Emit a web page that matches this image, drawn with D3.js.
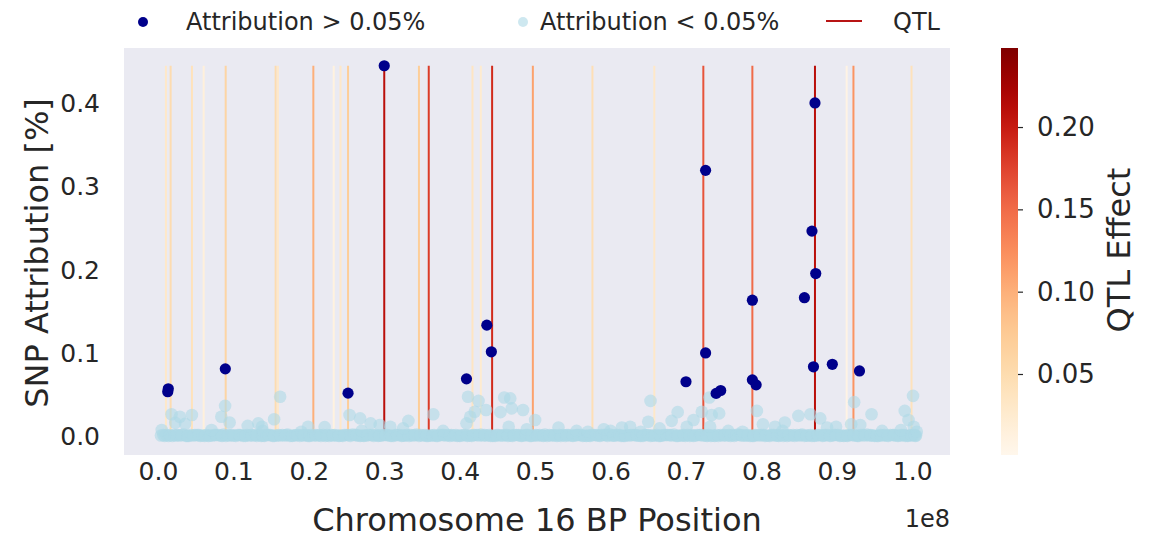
<!DOCTYPE html>
<html><head><meta charset="utf-8">
<script src="https://cdn.jsdelivr.net/npm/d3@7"></script>
<style>
html,body{margin:0;padding:0;background:#fff;}
svg text{font-family:"DejaVu Sans",sans-serif;fill:#262626;}
</style></head>
<body><svg id="chart" width="1152" height="538"></svg>
<script>
// QTL positions (Mb) and effects
const qtlPos =    [1.06, 1.68, 4.51, 6.06, 8.98, 15.6, 15.9, 20.6, 23.3, 24.2, 25.2, 30.0, 34.6, 35.9, 41.7, 42.8, 44.3, 49.7, 57.6, 65.8, 72.3, 78.8, 87.1, 91.3, 92.2, 99.9];
const qtlEffect = [0.03, 0.05, 0.04, 0.015, 0.06, 0.05, 0.03, 0.10, 0.012, 0.03, 0.07, 0.21, 0.07, 0.18, 0.035, 0.025, 0.19, 0.11, 0.045, 0.03, 0.165, 0.15, 0.21, 0.008, 0.12, 0.04];

// SNPs with attribution > 0.05% : [position Mb, attribution %]
const highSNPs = [
 [1.37,0.0565],[1.30,0.0530],[8.93,0.0805],[25.2,0.0513],[30.0,0.4447],[40.9,0.0685],
 [43.6,0.1330],[44.2,0.1010],[70.0,0.0650],[72.6,0.3190],[72.6,0.0996],[74.0,0.0510],
 [74.6,0.0545],[78.8,0.1630],[78.8,0.0673],[79.3,0.0613],[85.7,0.1660],[86.7,0.2460],
 [87.1,0.4000],[87.2,0.1950],[86.9,0.0830],[89.4,0.0860],[93.0,0.0780]
];

// SNPs with attribution < 0.05% (elevated ones)
const lowSNPsRaised = [
 [1.8,0.026],[2.9,0.023],[4.5,0.025],[8.9,0.036],[8.4,0.023],[9.5,0.016],[16.2,0.047],[15.4,0.020],
 [2.3,0.0156],[3.6,0.0144],[11.9,0.012],[13.3,0.015],[13.8,0.011],[7.1,0.007],[0.5,0.007],
 [25.4,0.025],[26.8,0.021],[28.2,0.015],[33.2,0.018],[36.5,0.026],[19.9,0.011],[22.1,0.0105],
 [29.4,0.013],[30.8,0.011],[32.5,0.009],[41.1,0.047],[42.5,0.042],[45.9,0.046],[46.7,0.045],
 [46.9,0.033],[43.5,0.031],[45.4,0.0285],[48.4,0.031],[42.0,0.029],[41.4,0.023],[40.9,0.015],
 [50.0,0.019],[46.5,0.011],[53.1,0.010],[48.9,0.008],[59.1,0.008],[65.3,0.042],[65.0,0.017],
 [68.9,0.0285],[68.1,0.018],[73.1,0.046],[72.1,0.029],[73.4,0.025],[74.4,0.027],[71.0,0.019],
 [73.2,0.011],[79.4,0.030],[80.2,0.014],[61.5,0.010],[62.6,0.011],[66.5,0.009],[70.1,0.011],
 [92.3,0.0405],[100.1,0.048],[84.9,0.024],[83.1,0.016],[86.5,0.026],[87.8,0.021],[94.6,0.026],
 [99.0,0.030],[99.5,0.019],[81.8,0.011],[91.9,0.014],[93.1,0.013],[89.9,0.011],[88.7,0.010],
 [100.2,0.011],[100.6,0.005],[13.9,0.006],[19.0,0.005],[27.0,0.006],[37.8,0.006],[55.5,0.006],
 [57.0,0.005],[60.0,0.006],[64.0,0.005],[75.6,0.006],[77.5,0.005],[82.8,0.006],[96.0,0.006],[98.5,0.007]
];

// dense band of near-zero SNPs (three interleaved runs read along the band)
const lowSNPsBandA = [
 [0.4,0.0005],[1.1,0.001],[1.9,0.000],[2.6,0.001],[3.4,0.0015],[4.1,0.000],[4.9,0.001],[5.6,0.000],[6.4,0.001],[7.2,0.0005],
 [8.0,0.001],[8.7,0.0015],[9.5,0.0005],[10.3,0.000],[11.0,0.001],[11.8,0.001],[12.6,0.0005],[13.4,0.001],[14.1,0.000],[14.9,0.001],
 [15.7,0.0005],[16.5,0.001],[17.2,0.0015],[18.0,0.0005],[18.8,0.000],[19.6,0.001],[20.3,0.001],[21.1,0.0005],[21.9,0.001],[22.7,0.000],
 [23.4,0.001],[24.2,0.0005],[25.0,0.001],[25.8,0.0015],[26.5,0.0005],[27.3,0.000],[28.1,0.001],[28.9,0.001],[29.6,0.0005],[30.4,0.001],
 [31.2,0.000],[32.0,0.001],[32.7,0.0005],[33.5,0.001],[34.3,0.0015],[35.1,0.0005],[35.8,0.000],[36.6,0.001],[37.4,0.001],[38.2,0.0005],
 [38.9,0.001],[39.7,0.000],[40.5,0.001],[41.3,0.0005],[42.0,0.001],[42.8,0.0015],[43.6,0.0005],[44.4,0.000],[45.1,0.001],[45.9,0.001],
 [46.7,0.0005],[47.5,0.001],[48.2,0.000],[49.0,0.001],[49.8,0.0005],[50.6,0.001],[51.3,0.0015],[52.1,0.0005],[52.9,0.000],[53.7,0.001],
 [54.4,0.001],[55.2,0.0005],[56.0,0.001],[56.8,0.000],[57.5,0.001],[58.3,0.0005],[59.1,0.001],[59.9,0.0015],[60.6,0.0005],[61.4,0.000],
 [62.2,0.001],[63.0,0.001],[63.7,0.0005],[64.5,0.001],[65.3,0.000],[66.1,0.001],[66.8,0.0005],[67.6,0.001],[68.4,0.0015],[69.2,0.0005],
 [69.9,0.000],[70.7,0.001],[71.5,0.001],[72.3,0.0005],[73.0,0.001],[73.8,0.000],[74.6,0.001],[75.4,0.0005],[76.1,0.001],[76.9,0.0015],
 [77.7,0.0005],[78.5,0.000],[79.2,0.001],[80.0,0.001],[80.8,0.0005],[81.6,0.001],[82.3,0.000],[83.1,0.001],[83.9,0.0005],[84.7,0.001],
 [85.4,0.0015],[86.2,0.0005],[87.0,0.000],[87.8,0.001],[88.5,0.001],[89.3,0.0005],[90.1,0.001],[90.9,0.000],[91.6,0.001],[92.4,0.0005],
 [93.2,0.001],[94.0,0.0015],[94.7,0.0005],[95.5,0.000],[96.3,0.001],[97.1,0.001],[97.8,0.0005],[98.6,0.001],[99.4,0.000],[100.1,0.001],[100.5,0.0005]
];
const lowSNPsBandB = [
 [0.7,0.001],[1.4,0.000],[2.2,0.001],[2.9,0.0005],[3.7,0.000],[4.4,0.001],[5.2,0.001],[5.9,0.0005],[6.7,0.000],[7.5,0.001],
 [8.3,0.0005],[9.0,0.000],[9.8,0.001],[10.6,0.001],[11.3,0.000],[12.1,0.0005],[12.9,0.001],[13.7,0.000],[14.4,0.001],[15.2,0.000],
 [16.0,0.001],[16.8,0.0005],[17.5,0.000],[18.3,0.001],[19.1,0.001],[19.9,0.000],[20.6,0.0005],[21.4,0.001],[22.2,0.000],[23.0,0.001],
 [23.7,0.0005],[24.5,0.000],[25.3,0.001],[26.1,0.001],[26.8,0.000],[27.6,0.0005],[28.4,0.001],[29.2,0.000],[29.9,0.001],[30.7,0.0005],
 [31.5,0.001],[32.3,0.000],[33.0,0.001],[33.8,0.0005],[34.6,0.000],[35.4,0.001],[36.1,0.0005],[36.9,0.000],[37.7,0.001],[38.5,0.001],
 [39.2,0.0005],[40.0,0.000],[40.8,0.001],[41.6,0.000],[42.3,0.001],[43.1,0.0005],[43.9,0.001],[44.7,0.000],[45.4,0.0005],[46.2,0.001],
 [47.0,0.000],[47.8,0.001],[48.5,0.0005],[49.3,0.000],[50.1,0.001],[50.9,0.0005],[51.6,0.000],[52.4,0.001],[53.2,0.001],[54.0,0.000],
 [54.7,0.0005],[55.5,0.001],[56.3,0.000],[57.1,0.0005],[57.8,0.001],[58.6,0.000],[59.4,0.001],[60.2,0.0005],[60.9,0.001],[61.7,0.000],
 [62.5,0.0005],[63.3,0.001],[64.0,0.000],[64.8,0.001],[65.6,0.0005],[66.4,0.000],[67.1,0.001],[67.9,0.001],[68.7,0.000],[69.5,0.0005],
 [70.2,0.001],[71.0,0.000],[71.8,0.001],[72.6,0.0005],[73.3,0.000],[74.1,0.001],[74.9,0.0005],[75.7,0.001],[76.4,0.000],[77.2,0.001],
 [78.0,0.0005],[78.8,0.000],[79.5,0.001],[80.3,0.001],[81.1,0.000],[81.9,0.0005],[82.6,0.001],[83.4,0.000],[84.2,0.001],[85.0,0.0005],
 [85.7,0.000],[86.5,0.001],[87.3,0.0005],[88.1,0.000],[88.8,0.001],[89.6,0.001],[90.4,0.000],[91.2,0.0005],[91.9,0.001],[92.7,0.000],
 [93.5,0.001],[94.3,0.0005],[95.0,0.000],[95.8,0.001],[96.6,0.0005],[97.4,0.001],[98.1,0.000],[98.9,0.001],[99.7,0.0005],[100.3,0.001]
];
const lowSNPsBandC = [
 [0.9,0.000],[1.6,0.001],[2.4,0.0005],[3.1,0.001],[3.9,0.000],[4.7,0.0005],[5.4,0.001],[6.2,0.000],[6.9,0.0005],[7.7,0.001],
 [8.5,0.000],[9.3,0.001],[10.0,0.0005],[10.8,0.001],[11.6,0.000],[12.4,0.001],[13.1,0.000],[13.9,0.0005],[14.7,0.001],[15.4,0.000],
 [16.2,0.0005],[17.0,0.001],[17.8,0.000],[18.5,0.001],[19.3,0.0005],[20.1,0.000],[20.9,0.001],[21.6,0.000],[22.4,0.001],[23.2,0.0005],
 [24.0,0.000],[24.7,0.001],[25.5,0.000],[26.3,0.001],[27.1,0.0005],[27.8,0.001],[28.6,0.000],[29.4,0.0005],[30.2,0.001],[30.9,0.000],
 [31.7,0.001],[32.5,0.0005],[33.3,0.000],[34.0,0.001],[34.8,0.001],[35.6,0.000],[36.4,0.0005],[37.1,0.000],[37.9,0.001],[38.7,0.000],
 [39.5,0.001],[40.2,0.0005],[41.0,0.000],[41.8,0.001],[42.6,0.0005],[43.3,0.001],[44.1,0.000],[44.9,0.001],[45.7,0.0005],[46.4,0.000],
 [47.2,0.001],[48.0,0.0005],[48.8,0.001],[49.5,0.000],[50.3,0.0005],[51.1,0.000],[51.9,0.001],[52.6,0.0005],[53.4,0.000],[54.2,0.001],
 [55.0,0.000],[55.7,0.001],[56.5,0.0005],[57.3,0.000],[58.1,0.001],[58.8,0.001],[59.6,0.000],[60.4,0.0005],[61.2,0.001],[61.9,0.000],
 [62.7,0.001],[63.5,0.0005],[64.3,0.000],[65.0,0.001],[65.8,0.0005],[66.6,0.000],[67.4,0.001],[68.1,0.0005],[68.9,0.000],[69.7,0.001],
 [70.5,0.000],[71.2,0.0005],[72.0,0.001],[72.8,0.000],[73.6,0.0005],[74.3,0.000],[75.1,0.001],[75.9,0.000],[76.7,0.001],[77.4,0.0005],
 [78.2,0.001],[79.0,0.000],[79.8,0.0005],[80.5,0.000],[81.3,0.001],[82.1,0.0005],[82.9,0.000],[83.6,0.001],[84.4,0.000],[85.2,0.001],
 [86.0,0.0005],[86.7,0.000],[87.5,0.001],[88.3,0.0005],[89.1,0.000],[89.8,0.001],[90.6,0.0005],[91.4,0.000],[92.2,0.001],[92.9,0.000],
 [93.7,0.0005],[94.5,0.001],[95.3,0.000],[96.0,0.0005],[96.8,0.000],[97.6,0.001],[98.4,0.0005],[99.1,0.000],[99.9,0.001],[100.4,0.000]
];

const xTicks = [0,10,20,30,40,50,60,70,80,90,100];
const yTicks = [0.0,0.1,0.2,0.3,0.4];
const cbTicks = [0.05,0.10,0.15,0.20];
const cbDomain = [0.0008, 0.248];

const svg = d3.select("#chart");
const L=124, R=950, T=48, B=455;
const x = d3.scaleLinear().domain([-4.5,105]).range([L,R]);
const y = d3.scaleLinear().domain([-0.023,0.466]).range([B,T]);
const cmap = d3.scaleSequential(d3.interpolateOrRd).domain(cbDomain);

svg.append("rect").attr("x",L).attr("y",T).attr("width",R-L).attr("height",B-T).attr("fill","#eaeaf2");

const maxAttr = d3.max(highSNPs, d=>d[1]);
// QTL lines
svg.append("g").selectAll("line").data(d3.range(qtlPos.length)).join("line")
  .attr("x1",i=>x(qtlPos[i])).attr("x2",i=>x(qtlPos[i]))
  .attr("y1",y(0)).attr("y2",y(maxAttr))
  .attr("stroke",i=>cmap(qtlEffect[i])).attr("stroke-width",2);

// low points
const low = lowSNPsBandA.concat(lowSNPsBandB, lowSNPsBandC, lowSNPsRaised);
svg.append("g").selectAll("circle").data(low).join("circle")
  .attr("cx",d=>x(d[0])).attr("cy",d=>y(d[1])).attr("r",6.3)
  .attr("fill","#add8e6").attr("fill-opacity",0.6);
// high points
svg.append("g").selectAll("circle").data(highSNPs).join("circle")
  .attr("cx",d=>x(d[0])).attr("cy",d=>y(d[1])).attr("r",5.6)
  .attr("fill","#00008b");

// x axis
const xAxis = d3.axisBottom(x).tickValues(xTicks).tickSize(0).tickPadding(0).tickFormat(d=>(d/100).toFixed(1));
const gx = svg.append("g").attr("transform",`translate(0,${B})`).call(xAxis);
gx.select(".domain").remove();
gx.selectAll("text").attr("font-size",25).attr("dy",null).attr("y",25).attr("font-family","DejaVu Sans").attr("fill","#262626");
// y axis
const yAxis = d3.axisLeft(y).tickValues(yTicks).tickSize(0).tickPadding(0).tickFormat(d=>d.toFixed(1));
const gy = svg.append("g").attr("transform",`translate(${L},0)`).call(yAxis);
gy.select(".domain").remove();
gy.selectAll("text").attr("font-size",25).attr("x",-24).attr("dy","0.35em").attr("font-family","DejaVu Sans").attr("fill","#262626");

svg.append("text").attr("x",537).attr("y",531).attr("text-anchor","middle").attr("font-size",32).text("Chromosome 16 BP Position");
svg.append("text").attr("x",950).attr("y",527).attr("text-anchor","end").attr("font-size",24).text("1e8");
svg.append("text").attr("transform","translate(48,253) rotate(-90)").attr("text-anchor","middle").attr("font-size",32).text("SNP Attribution [%]");

// colorbar
const cbX=1001, cbW=17;
const defs = svg.append("defs");
const grad = defs.append("linearGradient").attr("id","cbg").attr("x1",0).attr("y1",1).attr("x2",0).attr("y2",0);
d3.range(0,1.0001,0.05).forEach(t=>{
  grad.append("stop").attr("offset",t).attr("stop-color",cmap(cbDomain[0]+t*(cbDomain[1]-cbDomain[0])));
});
svg.append("rect").attr("x",cbX).attr("y",T).attr("width",cbW).attr("height",B-T).attr("fill","url(#cbg)");
const cy = d3.scaleLinear().domain(cbDomain).range([B,T]);
const cbAxis = d3.axisRight(cy).tickValues(cbTicks).tickSize(5).tickPadding(14).tickFormat(d3.format(".2f"));
const gc = svg.append("g").attr("transform",`translate(${cbX+cbW},0)`).call(cbAxis);
gc.select(".domain").remove();
gc.selectAll("line").attr("stroke","#262626").attr("stroke-width",1.2);
gc.selectAll("text").attr("font-size",26).attr("font-family","DejaVu Sans").attr("fill","#262626");
svg.append("text").attr("transform","translate(1130,250) rotate(-90)").attr("text-anchor","middle").attr("font-size",32).text("QTL Effect");

// legend
const lg = svg.append("g");
lg.append("circle").attr("cx",143).attr("cy",22).attr("r",5).attr("fill","#00008b");
lg.append("text").attr("x",186).attr("y",30).attr("font-size",24).text("Attribution > 0.05%");
lg.append("circle").attr("cx",523).attr("cy",22).attr("r",5).attr("fill","#add8e6").attr("fill-opacity",0.6);
lg.append("text").attr("x",540).attr("y",30).attr("font-size",24).text("Attribution < 0.05%");
lg.append("line").attr("x1",826).attr("x2",862).attr("y1",21).attr("y2",21).attr("stroke","#b81414").attr("stroke-width",2);
lg.append("text").attr("x",893).attr("y",30).attr("font-size",24).text("QTL");
</script></body></html>
